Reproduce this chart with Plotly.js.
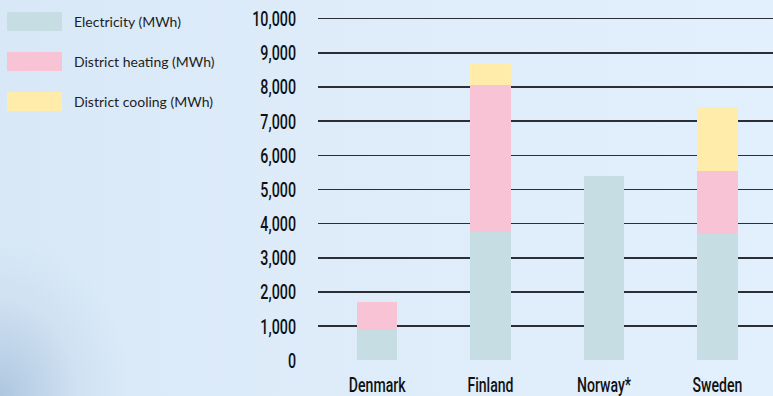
<!DOCTYPE html>
<html>
<head>
<meta charset="utf-8">
<script src="https://cdn.plot.ly/plotly-3.0.1.min.js"></script>
<style>
  html, body { margin: 0; padding: 0; }
  body {
    width: 773px; height: 396px; overflow: hidden;
    background:
      radial-gradient(ellipse 130px 160px at 0px 396px, rgba(140,172,205,0.55), rgba(185,208,232,0.3) 60%, rgba(220,235,250,0) 100%),
      linear-gradient(90deg, #d8e8f6 0%, #deecfa 40%, #e2effd 100%);
  }
  #chart { width: 773px; height: 396px; }
</style>
</head>
<body>
<div id="chart"></div>
<script>
// Energy use per country, stacked by type (MWh)
const countries   = ['Denmark', 'Finland', 'Norway*', 'Sweden'];
const electricity = [900, 3750, 5400, 3700];
const heating     = [800, 4300, 0, 1850];
const cooling     = [0, 640, 0, 1870];

const seriesNames  = ['Electricity (MWh)', 'District heating (MWh)', 'District cooling (MWh)'];
const seriesColors = ['#c5dde3', '#f7c3d5', '#ffecaa'];
const yTicks       = [0, 1000, 2000, 3000, 4000, 5000, 6000, 7000, 8000, 9000, 10000];
const yTickText    = ['0', '1,000', '2,000', '3,000', '4,000', '5,000', '6,000', '7,000', '8,000', '9,000', '10,000'];

const W = 773, H = 396;
const margin = { l: 318, r: 0, t: 17, b: 35 };
const plotW = W - margin.l - margin.r;
const plotH = H - margin.t - margin.b;

// convert page pixels to paper coordinates (for the legend block on the left)
const px = x => (x - margin.l) / plotW;
const py = y => (H - margin.b - y) / plotH;

const values = [electricity, heating, cooling];
const traces = values.map((v, i) => ({
  type: 'bar',
  x: countries,
  y: v,
  name: seriesNames[i],
  marker: { color: seriesColors[i], line: { width: 0 } },
  width: 0.36,
  hoverinfo: 'skip'
}));

// legend: wide swatches with labels
const shapes = [];
const annotations = [];
seriesNames.forEach((name, i) => {
  const top = 12 + i * 40;
  shapes.push({
    type: 'rect', xref: 'paper', yref: 'paper', layer: 'above',
    x0: px(7), x1: px(62), y0: py(top + 19), y1: py(top),
    fillcolor: seriesColors[i], line: { width: 0 }
  });
  annotations.push({
    xref: 'paper', yref: 'paper', x: px(72), y: py(top + 9.5),
    xanchor: 'left', yanchor: 'middle', showarrow: false,
    text: name,
    font: { family: 'Lato, "Open Sans", sans-serif', size: 14, color: '#1e1e1e' }
  });
});

const condensed = 'Roboto, "Open Sans", sans-serif';

const layout = {
  width: W, height: H,
  margin: margin,
  paper_bgcolor: 'rgba(0,0,0,0)',
  plot_bgcolor: 'rgba(0,0,0,0)',
  barmode: 'stack',
  showlegend: false,
  xaxis: {
    type: 'category',
    range: [-0.52, 3.49],
    showgrid: false, zeroline: false, showline: false,
    ticks: '', ticklabelstandoff: 9,
    tickfont: { family: condensed, size: 21, weight: 500, color: '#111111' },
    fixedrange: true
  },
  yaxis: {
    range: [-20, 10050],
    tickvals: yTicks, ticktext: yTickText,
    showgrid: true, gridcolor: '#2a2e35', gridwidth: 1.5,
    zeroline: false, showline: false,
    ticks: '', ticklabelstandoff: 21,
    tickfont: { family: condensed, size: 21, weight: 500, color: '#111111' },
    fixedrange: true
  },
  shapes: shapes,
  annotations: annotations
};

// narrow the tick labels horizontally around their anchor point
function condense(gd, selector, sx, anchor) {
  gd.querySelectorAll(selector).forEach(t => {
    const bb = t.getBBox();
    let ax;
    if (anchor === 'end') ax = bb.x + bb.width;
    else ax = bb.x + bb.width / 2;
    const prev = t.getAttribute('transform') || '';
    t.setAttribute('transform', prev + ' translate(' + (ax * (1 - sx)) + ',0) scale(' + sx + ',1)');
  });
}

Plotly.newPlot('chart', traces, layout, { staticPlot: true, displayModeBar: false }).then(gd => {
  condense(gd, '.ytick text', 0.68, 'end');
  condense(gd, '.xtick text', 0.67, 'middle');
});
</script>
</body>
</html>
